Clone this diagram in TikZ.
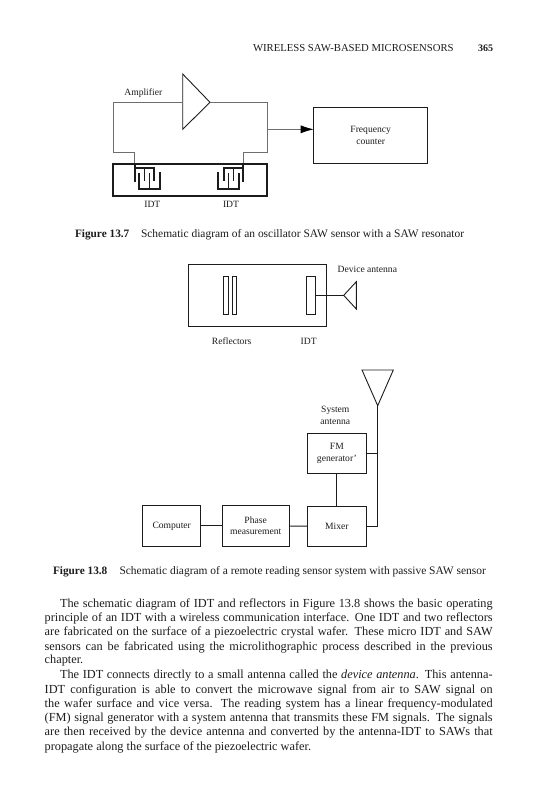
\documentclass[tikz,border=0pt]{standalone}
\usepackage{fontspec}
\setmainfont{Liberation Serif}
\usetikzlibrary{arrows.meta,positioning,calc}
\definecolor{inkBlack}{HTML}{1C1C1C}
\definecolor{wireGray}{HTML}{6E6E6E}
\tikzset{
  wire/.style={line width=0.7pt, wireGray},
  boldwire/.style={line width=0.9pt, inkBlack},
  blockbox/.style={draw=inkBlack, line width=0.9pt, inner sep=0pt, outer sep=0pt, align=center, font=\fontsize{9.6}{11.4}\selectfont, text=inkBlack},
  partlabel/.style={inner sep=0pt, outer sep=0pt, align=center, font=\fontsize{9.6}{11.2}\selectfont, text=inkBlack},
  figcaption/.style={inner sep=0pt, outer sep=0pt, anchor=west, font=\fontsize{11.45}{12}\selectfont, text=inkBlack},
  bodyline/.style={inner sep=0pt, outer sep=0pt, anchor=west, font=\fontsize{12.3}{14}\selectfont, text=inkBlack}
}
\newcommand{\fullline}[1]{\hbox to 448pt{#1}}
\newcommand{\indentline}[1]{\hbox to 432.7pt{#1}}

\begin{document}
\begin{tikzpicture}[x=1pt, y=-1pt, >=Stealth]
  \useasboundingbox (0, 0) rectangle (535, 800);

  % Running header
  \node[figcaption, font=\fontsize{10.7}{12}\selectfont] (header) at (253, 48) {WIRELESS SAW-BASED MICROSENSORS};
  \node[figcaption, font=\fontsize{10}{12}\selectfont\bfseries] (pagenum) at (478, 48) {365};

  % ----------------------------------------------------
  % FIGURE 13.7: Oscillator sensor
  % ----------------------------------------------------
  \coordinate (amptop) at (182.7, 74);
  \coordinate (ampbot) at (182.7, 129.3);
  \coordinate (ampin) at (182.7, 102.3);
  \coordinate (amptip) at (210, 102.3);
  \coordinate (loopL) at (113.3, 152.3);
  \coordinate (loopR) at (267, 152.3);
  \coordinate (idtL) at (134.7, 168.3);
  \coordinate (idtR) at (243.3, 168.3);
  \coordinate (tap) at (267, 129.3);

  \draw[boldwire] (amptop) -- (amptip) -- (ampbot) -- cycle;
  \node[partlabel] (amplabel) at (143.3, 93.5) {Amplifier};
  \draw[wire] (ampin) -| (loopL) -| (idtL);
  \draw[wire] (amptip) -| (loopR) -| (idtR);

  \node[blockbox, minimum width=114pt, minimum height=56.7pt] (counter) at (370.7, 135.3) {Frequency\\counter};
  \draw[wire, -{Latex[length=13pt, width=8pt, black]}] (tap) -- (tap -| counter.west);

  \node[draw=inkBlack, line width=2.2pt, inner sep=0pt, outer sep=0pt, minimum width=154.3pt, minimum height=32pt] (wafer) at (189.85, 179.7) {};

  % Both combs, the second one mirrored
  \foreach \o/\s in {0/1, 378/-1} {
    \begin{scope}[shift={(\o, 0)}, xscale=\s, line width=1.7pt, inkBlack]
      \draw (134.7, 163.7) -- (134.7, 182);
      \draw (134.7, 168.3) -- (154, 168.3) -- (154, 181);
      \draw (144.5, 168.3) -- (144.5, 181);
      \draw (139.2, 173) -- (139.2, 188.7) -- (160, 188.7) -- (160, 172);
      \draw (149.5, 173) -- (149.5, 188.7);
    \end{scope}
  }
  \node[partlabel] (idtleft) at (152.3, 204.5) {IDT};
  \node[partlabel] (idtright) at (231, 204.5) {IDT};

  \node[figcaption, font=\fontsize{11.3}{12}\selectfont\bfseries] (cap137a) at (75, 235) {Figure 13.7};
  \node[figcaption] (cap137b) at (141, 235) {Schematic diagram of an oscillator SAW sensor with a SAW resonator};

  % ----------------------------------------------------
  % FIGURE 13.8: Passive sensor chip
  % ----------------------------------------------------
  \node[blockbox, minimum width=138pt, minimum height=62pt] (chip) at (257.7, 295.7) {};
  \node[blockbox, minimum width=4.3pt, minimum height=37.3pt] (reflA) at (225.85, 295.35) {};
  \node[blockbox, minimum width=4.3pt, minimum height=37.3pt] (reflB) at (234.15, 295.35) {};
  \node[blockbox, minimum width=9pt, minimum height=37.3pt] (chipidt) at (311.2, 295.35) {};

  \coordinate (antfeed) at (343.7, 295.35);
  \coordinate (antup) at (356.3, 281.7);
  \coordinate (antdown) at (356.3, 309);
  \draw[boldwire] (chipidt.east) -- (antfeed);
  \draw[boldwire] (antfeed) -- (antup) -- (antdown) -- cycle;

  \node[partlabel] (devlabel) at (367.3, 269.7) {Device antenna};
  \node[partlabel] (refllabel) at (231.7, 341.3) {Reflectors};
  \node[partlabel] (idtlabel) at (308.7, 341.3) {IDT};

  % ----------------------------------------------------
  % FIGURE 13.8: Reading system
  % ----------------------------------------------------
  \coordinate (sysL) at (362, 370);
  \coordinate (sysR) at (393.3, 370);
  \coordinate (systip) at (377.7, 405.7);
  \draw[boldwire] (sysL) -- (sysR) -- (systip) -- cycle;
  \node[partlabel] (syslabel) at (335.3, 415.3) {System\\antenna};

  \node[blockbox, minimum width=59.7pt, minimum height=39.6pt] (fmgen) at (336.85, 453.5) {FM\\generator'};
  \node[blockbox, minimum width=58.3pt, minimum height=40pt] (mixer) at (336.85, 526.3) {Mixer};
  \node[blockbox, minimum width=66.7pt, minimum height=40.3pt] (phase) at (255.65, 525.85) {Phase\\measurement};
  \node[blockbox, minimum width=58pt, minimum height=40.3pt] (computer) at (171.7, 525.85) {Computer};

  \draw[boldwire] (computer) -- (phase);
  \draw[boldwire] (phase) -- (mixer);
  \draw[boldwire] (fmgen) -- (mixer);
  \draw[boldwire] (mixer.east) -| (systip);
  \draw[boldwire] (fmgen.east) -- (fmgen.east -| systip);

  \node[figcaption, font=\fontsize{11.3}{12}\selectfont\bfseries] (cap138a) at (53, 571.7) {Figure 13.8};
  \node[figcaption] (cap138b) at (119.5, 571.7) {Schematic diagram of a remote reading sensor system with passive SAW sensor};

  % ----------------------------------------------------
  % Body text, line by line
  % ----------------------------------------------------
  \node[bodyline] (lineA) at (60, 604) {\indentline{The schematic diagram of IDT and reflectors in Figure 13.8 shows the basic operating}};
  \node[bodyline] (lineB) at (44.7, 618.3) {\fullline{principle of an IDT with a wireless communication interface. One IDT and two reflectors}};
  \node[bodyline] (lineC) at (44.7, 632.7) {\fullline{are fabricated on the surface of a piezoelectric crystal wafer. These micro IDT and SAW}};
  \node[bodyline] (lineD) at (44.7, 647) {\fullline{sensors can be fabricated using the microlithographic process described in the previous}};
  \node[bodyline] (lineE) at (44.7, 661) {chapter.};
  \node[bodyline] (lineF) at (60, 675.7) {\indentline{The IDT connects directly to a small antenna called the \textit{device antenna}. This antenna-}};
  \node[bodyline] (lineG) at (44.7, 690) {\fullline{IDT configuration is able to convert the microwave signal from air to SAW signal on}};
  \node[bodyline] (lineH) at (44.7, 704.3) {\fullline{the wafer surface and vice versa. The reading system has a linear frequency-modulated}};
  \node[bodyline] (lineI) at (44.7, 718.7) {\fullline{(FM) signal generator with a system antenna that transmits these FM signals. The signals}};
  \node[bodyline] (lineJ) at (44.7, 733) {\fullline{are then received by the device antenna and converted by the antenna-IDT to SAWs that}};
  \node[bodyline] (lineK) at (44.7, 747.3) {propagate along the surface of the piezoelectric wafer.};

\end{tikzpicture}
\end{document}
